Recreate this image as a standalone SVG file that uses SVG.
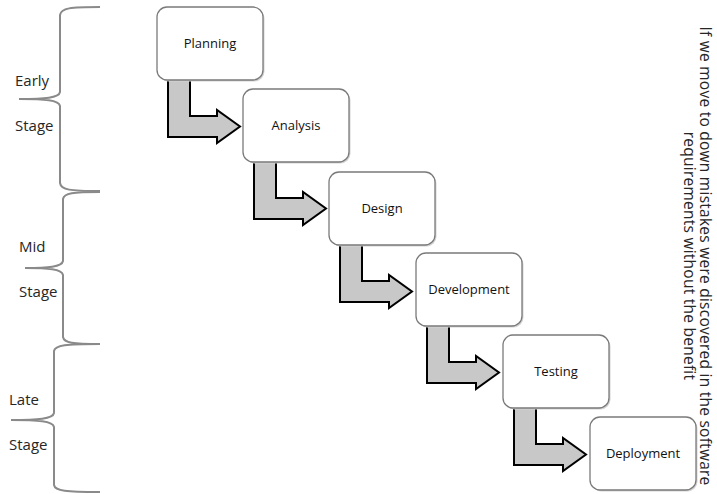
<svg xmlns="http://www.w3.org/2000/svg" width="717" height="494" viewBox="0 0 717 494">
  <defs>
    <style>
      .brace { fill: none; stroke: #8a8a8a; stroke-width: 2; }
      .side { font-family: "Open Sans", "DejaVu Sans", sans-serif; font-size: 15px; fill: #262626; }
      .box { fill: #ffffff; stroke: #7a7a7a; stroke-width: 1.3; }
      .shadow { fill: #d4d4d4; }
      .label { font-family: "Open Sans", "DejaVu Sans", sans-serif; font-size: 13px; fill: #111111; text-anchor: middle; }
      .flow { fill: #c8c8c8; stroke: #000000; stroke-width: 2; stroke-linejoin: miter; }
      .note { font-family: "Open Sans", "DejaVu Sans", sans-serif; font-size: 15.5px; letter-spacing: 0.25px; fill: #262626; text-anchor: middle; }
    </style>
    <!-- bent step arrow, origin = top-left of the source box -->
    <path id="step" class="flow" d="M11,73 L33,73 L33,109 L60,109 L60,103 L83,119.5 L60,136 L60,130 L11,130 Z"/>
  </defs>

  <rect width="717" height="494" fill="#ffffff"/>

  <!-- stage braces -->
  <g id="braces">
    <path class="brace" d="M100,7 C70,7 61,8 60,15 L60,92 C59,98 45,99 19,99 C45,99 59,100 60,106 L60,183 C61,190 70,191 100,191"/>
    <path class="brace" d="M100,192 C73,192 64,193 63,199 L63,261 C62,267 48,268 25,268 C48,268 62,269 63,275 L63,337 C64,343 73,344 100,344"/>
    <path class="brace" d="M100,344 C66,344 55,345 54,351 L54,413 C53,419 38,420 11,420 C38,420 53,421 54,427 L54,485 C55,491 66,492 100,492"/>
  </g>

  <g id="stage-labels">
    <text class="side" x="15" y="86">Early</text>
    <text class="side" x="15" y="131">Stage</text>
    <text class="side" x="19" y="252">Mid</text>
    <text class="side" x="19" y="297">Stage</text>
    <text class="side" x="9" y="405">Late</text>
    <text class="side" x="9" y="450">Stage</text>
  </g>

  <!-- connectors between phases -->
  <g id="connectors">
    <use href="#step" transform="translate(157,7)"/>
    <use href="#step" transform="translate(243,89)"/>
    <use href="#step" transform="translate(329,172)"/>
    <use href="#step" transform="translate(416,253)"/>
    <use href="#step" transform="translate(503,335)"/>
  </g>

  <g id="planning">
    <rect class="shadow" x="158.5" y="8.5" width="106" height="73" rx="10"/>
    <rect class="box" x="157" y="7" width="106" height="73" rx="10"/>
    <text class="label" x="210" y="48">Planning</text>
  </g>
  <g id="analysis">
    <rect class="shadow" x="244.5" y="90.5" width="106" height="73" rx="10"/>
    <rect class="box" x="243" y="89" width="106" height="73" rx="10"/>
    <text class="label" x="296" y="130">Analysis</text>
  </g>
  <g id="design">
    <rect class="shadow" x="330.5" y="173.5" width="106" height="73" rx="10"/>
    <rect class="box" x="329" y="172" width="106" height="73" rx="10"/>
    <text class="label" x="382" y="213">Design</text>
  </g>
  <g id="development">
    <rect class="shadow" x="417.5" y="254.5" width="106" height="73" rx="10"/>
    <rect class="box" x="416" y="253" width="106" height="73" rx="10"/>
    <text class="label" x="469" y="294">Development</text>
  </g>
  <g id="testing">
    <rect class="shadow" x="504.5" y="336.5" width="106" height="73" rx="10"/>
    <rect class="box" x="503" y="335" width="106" height="73" rx="10"/>
    <text class="label" x="556" y="376">Testing</text>
  </g>
  <g id="deployment">
    <rect class="shadow" x="591.5" y="418.5" width="106" height="73" rx="10"/>
    <rect class="box" x="590" y="417" width="106" height="73" rx="10"/>
    <text class="label" x="643" y="458">Deployment</text>
  </g>

  <!-- vertical side note -->
  <g id="note" transform="rotate(90)">
    <text class="note" x="256" y="-699.5">If we move to down mistakes were discovered in the software</text>
    <text class="note" x="256" y="-684">requirements without the benefit</text>
  </g>
</svg>
